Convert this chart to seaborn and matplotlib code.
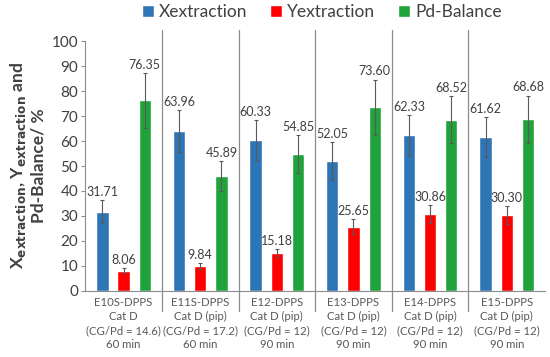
import matplotlib
matplotlib.use("Agg")
import matplotlib.pyplot as plt
import seaborn as sns
import pandas as pd

experiments = [
    "E10S-DPPS\nCat D\n(CG/Pd = 14.6)\n60 min",
    "E11S-DPPS\nCat D (pip)\n(CG/Pd = 17.2)\n60 min",
    "E12-DPPS\nCat D (pip)\n(CG/Pd = 12)\n90 min",
    "E13-DPPS\nCat D (pip)\n(CG/Pd = 12)\n90 min",
    "E14-DPPS\nCat D (pip)\n(CG/Pd = 12)\n90 min",
    "E15-DPPS\nCat D (pip)\n(CG/Pd = 12)\n90 min",
]
series = ["Xextraction", "Yextraction", "Pd-Balance"]
x_extraction = [31.71, 63.96, 60.33, 52.05, 62.33, 61.62]
y_extraction = [8.06, 9.84, 15.18, 25.65, 30.86, 30.30]
pd_balance = [76.35, 45.89, 54.85, 73.60, 68.52, 68.68]
x_err = [4.5, 8.5, 8.0, 7.5, 8.0, 8.0]
y_err = [1.0, 1.2, 1.5, 3.0, 3.5, 3.5]
pd_err = [11.0, 6.0, 7.5, 11.0, 9.5, 9.5]
colors = ["#2e75b6", "#ff0000", "#21a33c"]

df = pd.DataFrame({
    "experiment": experiments * 3,
    "series": [s for s in series for _ in experiments],
    "value": x_extraction + y_extraction + pd_balance,
    "err": x_err + y_err + pd_err,
})

sns.set_style("white")
plt.rcParams["font.family"] = ["Lato", "DejaVu Sans"]

fig = plt.figure(figsize=(5.5, 3.57), dpi=100)
ax = fig.add_axes([0.155, 0.185, 0.836, 0.70])

sns.barplot(data=df, x="experiment", y="value", hue="series", palette=colors,
            saturation=1, width=0.83, gap=0.42, errorbar=None, ax=ax, legend=True)

# error bars and value labels, one patch per row (hue-major order)
for patch, (_, row) in zip(ax.patches, df.iterrows()):
    cx = patch.get_x() + patch.get_width() / 2
    ax.errorbar(cx, row["value"], yerr=row["err"], fmt="none",
                ecolor="#595959", elinewidth=0.8, capsize=1.5, capthick=0.8)
    ax.annotate(f"{row['value']:.2f}", (cx, row["value"] + row["err"]),
                xytext=(0, 1.5), textcoords="offset points",
                ha="center", va="bottom", fontsize=9, color="#404040")

# separators between experiments
for i in range(1, len(experiments)):
    ax.plot([i - 0.5, i - 0.5], [-0.08, 1.045], color="#8c8c8c", lw=0.9,
            transform=ax.get_xaxis_transform(), clip_on=False)

ax.set_xlim(-0.5, len(experiments) - 0.5)
ax.set_ylim(0, 100)
ax.set_yticks(range(0, 101, 10))
ax.tick_params(axis="y", labelsize=11, colors="#8c8c8c", length=3, width=0.8,
               direction="out", left=True, pad=2)
ax.tick_params(axis="x", labelsize=8.2, colors="#595959", length=0, pad=4)
for lab in ax.get_yticklabels():
    lab.set_color("#404040")
for lab in ax.get_xticklabels():
    lab.set_linespacing(1.35)
ax.set_xlabel("")
ax.set_ylabel(r"X$_{\mathbf{extraction}}$, Y$_{\mathbf{extraction}}$ and" + "\nPd-Balance/ %",
              fontsize=12.5, fontweight="bold", color="#404040", labelpad=4)

for side in ["top", "right"]:
    ax.spines[side].set_visible(False)
ax.spines["left"].set_color("#8c8c8c")
ax.spines["bottom"].set_color("#8c8c8c")

handles, labels = ax.get_legend_handles_labels()
ax.legend(handles, labels, loc="center", bbox_to_anchor=(0.585, 0.966),
          bbox_transform=fig.transFigure, ncol=3, frameon=False, fontsize=12.5,
          handlelength=0.7, handleheight=0.7, handletextpad=0.3, columnspacing=1.3,
          labelcolor="#404040")

fig.savefig("out.png", dpi=100)
